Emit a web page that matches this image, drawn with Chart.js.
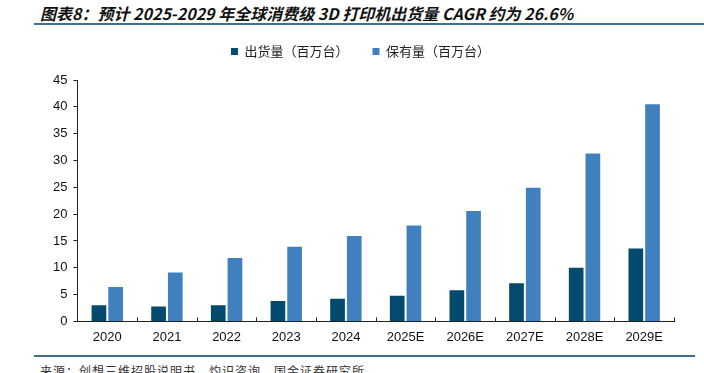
<!DOCTYPE html>
<html>
<head>
<meta charset="utf-8">
<script src="https://cdn.jsdelivr.net/npm/chart.js@4/dist/chart.umd.min.js"></script>
<style>
  html, body { margin: 0; padding: 0; background: #fff; overflow: hidden; }
  body { width: 704px; height: 373px; position: relative; }
  #title {
    position: absolute; left: 40px; top: 1px;
    font-family: "Noto Sans CJK SC", sans-serif; font-size: 16px;
    font-weight: bold; font-style: italic; color: #111; white-space: nowrap;
  }
  .rule { position: absolute; height: 2px; background: #3d6f93; }
  #foot {
    position: absolute; left: 40px; top: 362px;
    font-family: "Noto Sans CJK SC", sans-serif; font-size: 12px; color: #333;
    white-space: nowrap; letter-spacing: 1px;
  }
  #wrap { position: absolute; left: 0; top: 21px; width: 704px; height: 324px; }
</style>
</head>
<body>
<div id="title">图表8：预计 2025-2029 年全球消费级 3D 打印机出货量 CAGR 约为 26.6%</div>
<div class="rule" style="left:34px; top:23px; width:670px;"></div>
<div id="wrap"><canvas id="chart"></canvas></div>
<div class="rule" style="left:34px; top:355px; width:661px;"></div>
<div id="foot">来源：创想三维招股说明书，灼识咨询，国金证券研究所</div>
<script>
const years = ['2020', '2021', '2022', '2023', '2024', '2025E', '2026E', '2027E', '2028E', '2029E'];
const shipments = [3.0, 2.8, 3.0, 3.8, 4.2, 4.8, 5.8, 7.1, 10.0, 13.6];
const installed = [6.4, 9.1, 11.8, 13.9, 15.9, 17.9, 20.6, 24.9, 31.3, 40.5];
const yTicks = [0, 5, 10, 15, 20, 25, 30, 35, 40, 45];

// ticks on the x axis point up into the plot, between categories
const innerTicks = {
  id: 'innerTicks',
  afterDraw(chart) {
    const x = chart.scales.x;
    const c = chart.ctx;
    const step = (x.right - x.left) / years.length;
    c.save();
    c.strokeStyle = '#222';
    c.lineWidth = 1;
    for (let i = 1; i <= years.length; i++) {
      const px = Math.round(x.left + i * step) + 0.5;
      c.beginPath();
      c.moveTo(px, x.top - 4);
      c.lineTo(px, x.top);
      c.stroke();
    }
    c.restore();
  }
};

// more room under the legend
const legendGap = {
  id: 'legendGap',
  beforeInit(chart) {
    const fit = chart.legend.fit;
    chart.legend.fit = function () {
      fit.bind(chart.legend)();
      this.height += 12;
    };
  }
};

const ctx = document.getElementById('chart').getContext('2d');
const chart = new Chart(ctx, {
  type: 'bar',
  data: {
    labels: years,
    datasets: [
      { label: '出货量（百万台）', data: shipments, backgroundColor: '#034a6e' },
      { label: '保有量（百万台）', data: installed, backgroundColor: '#4180be' }
    ]
  },
  options: {
    responsive: true,
    maintainAspectRatio: false,
    animation: false,
    categoryPercentage: 0.56,
    barPercentage: 0.88,
    layout: { padding: { left: 47, right: 30, top: 0, bottom: 0 } },
    plugins: {
      tooltip: { enabled: false },
      legend: {
        position: 'top',
        labels: {
          boxWidth: 7, boxHeight: 7, padding: 24,
          color: '#222',
          font: { family: '"Noto Sans CJK SC", sans-serif', size: 13 }
        }
      }
    },
    scales: {
      x: {
        grid: { display: false },
        border: { color: '#222', width: 1 },
        ticks: { color: '#111', font: { family: 'Liberation Sans, Arial', size: 13 }, padding: 0 }
      },
      y: {
        min: 0, max: 45,
        afterBuildTicks(axis) { axis.ticks = yTicks.map(v => ({ value: v })); },
        grid: { drawOnChartArea: false, tickLength: 4, color: '#222' },
        border: { color: '#222', width: 1 },
        ticks: { color: '#111', font: { family: 'Liberation Sans, Arial', size: 13 }, padding: 6 }
      }
    }
  },
  plugins: [innerTicks, legendGap]
});
</script>
</body>
</html>
